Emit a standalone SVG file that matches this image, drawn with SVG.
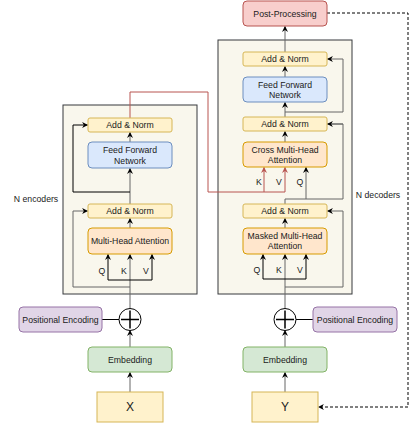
<svg xmlns="http://www.w3.org/2000/svg" width="415" height="423" viewBox="0 0 415 423">
<defs>
<style>
text{font-family:"Liberation Sans",Arial,sans-serif;font-size:8.7px;fill:#1a1a1a;text-anchor:middle;dominant-baseline:central}
.cont{fill:#f9f7ed;stroke:#36393d;stroke-width:1}
.an{fill:#fff2cc;stroke:#d6b656;stroke-width:1}
.ff{fill:#dae8fc;stroke:#6c8ebf;stroke-width:1}
.mha{fill:#ffe6cc;stroke:#d79b00;stroke-width:1}
.pp{fill:#f8cecc;stroke:#b85450;stroke-width:1}
.pe{fill:#e1d5e7;stroke:#9673a6;stroke-width:1}
.emb{fill:#d5e8d4;stroke:#82b366;stroke-width:1}
.inp{fill:#fff2cc;stroke:#d6b656;stroke-width:1}
.c{fill:none;stroke:#666;stroke-width:1}
.cb{fill:none;stroke:#000;stroke-width:1}
.cr{fill:none;stroke:#b85450;stroke-width:1}
.cd{fill:none;stroke:#000;stroke-width:1;stroke-dasharray:3 2}
.a{marker-end:url(#ah)}
.ar{marker-end:url(#ahr)}
.big{font-size:12px}
</style>
<marker id="ah" viewBox="0 0 10 10" refX="9" refY="5" markerWidth="6" markerHeight="6" markerUnits="userSpaceOnUse" orient="auto"><path d="M0,0 L10,5 L0,10 L3,5 z" fill="#000"/></marker>
<marker id="ahr" viewBox="0 0 10 10" refX="9" refY="5" markerWidth="6" markerHeight="6" markerUnits="userSpaceOnUse" orient="auto"><path d="M0,0 L10,5 L0,10 L3,5 z" fill="#b85450"/></marker>
</defs>

<g id="encoder-container"><rect class="cont" x="63" y="105" width="134" height="189"/></g>
<g id="decoder-container"><rect class="cont" x="218" y="40" width="134" height="254"/></g>

<g id="connectors">
<!-- encoder -->
<path class="c a" d="M130,392 V372.5"/>
<path class="c a" d="M130,347 V330.5"/>
<path class="cb" d="M102,319.5 H119"/>
<path class="c a" d="M130,308 V254.5"/>
<path class="cb a" d="M130,280 H108 V254.5"/>
<path class="cb a" d="M130,280 H152 V254.5"/>
<path class="c a" d="M130,287 H73 V211 H87.5"/>
<path class="c a" d="M130,228 V218.5"/>
<path class="c a" d="M130,204 V168.5"/>
<path class="cb a" d="M130,192 H73 V125 H87.5"/>
<path class="c a" d="M130,142 V132.5"/>
<path class="cr ar" d="M130,118 V92 H208 V192 H285 V167.5"/>
<path class="cr ar" d="M264,192 V167.5"/>
<!-- decoder -->
<path class="c a" d="M285,392 V372.5"/>
<path class="c a" d="M285,347 V330.5"/>
<path class="cb" d="M296,319.5 H313"/>
<path class="c a" d="M285,308 V254.5"/>
<path class="cb a" d="M285,279 H263 V254.5"/>
<path class="cb a" d="M285,279 H306 V254.5"/>
<path class="c a" d="M285,287 H343 V211 H327.5"/>
<path class="c a" d="M285,228 V218.5"/>
<path class="c" d="M285,204 V199 H343 V124 H327.5"/>
<path class="c a" d="M343,124 H327.5"/>
<path class="c a" d="M306,199 V167.5"/>
<path class="c a" d="M285,142 V131.5"/>
<path class="c a" d="M285,117 V102.5"/>
<path class="c" d="M285,112 H343 V59"/>
<path class="c a" d="M343,59 H327.5"/>
<path class="c a" d="M285,77 V66.5"/>
<path class="c a" d="M285,52 V26.5"/>
<path class="cd a" d="M327,13 H408 V407 H318.5"/>
</g>

<g id="enc-addnorm-top"><rect class="an" x="88" y="118" width="84" height="14" rx="2"/><text x="130" y="125">Add &amp; Norm</text></g>
<g id="enc-ffn"><rect class="ff" x="88" y="142" width="84" height="26" rx="4"/><text x="130" y="150">Feed Forward</text><text x="130" y="161">Network</text></g>
<g id="enc-addnorm-bottom"><rect class="an" x="88" y="204" width="84" height="14" rx="2"/><text x="130" y="211">Add &amp; Norm</text></g>
<g id="enc-mha"><rect class="mha" x="88" y="228" width="84" height="26" rx="4"/><text x="130" y="241">Multi-Head Attention</text></g>
<g id="enc-labels"><text x="102" y="271">Q</text><text x="124" y="271">K</text><text x="146" y="271">V</text><text x="36" y="199">N encoders</text></g>

<g id="post-processing"><rect class="pp" x="243" y="1" width="84" height="25" rx="4"/><text x="285" y="13.5">Post-Processing</text></g>
<g id="dec-addnorm-top"><rect class="an" x="243" y="52" width="84" height="14" rx="2"/><text x="285" y="59">Add &amp; Norm</text></g>
<g id="dec-ffn"><rect class="ff" x="243" y="77" width="84" height="25" rx="4"/><text x="285" y="84.5">Feed Forward</text><text x="285" y="95">Network</text></g>
<g id="dec-addnorm-mid"><rect class="an" x="243" y="117" width="84" height="14" rx="2"/><text x="285" y="124">Add &amp; Norm</text></g>
<g id="dec-cross-mha"><rect class="mha" x="243" y="142" width="84" height="25" rx="4"/><text x="285" y="149.5">Cross Multi-Head</text><text x="285" y="160">Attention</text></g>
<g id="dec-addnorm-bottom"><rect class="an" x="243" y="204" width="84" height="14" rx="2"/><text x="285" y="211">Add &amp; Norm</text></g>
<g id="dec-masked-mha"><rect class="mha" x="243" y="228" width="84" height="26" rx="4"/><text x="285" y="235.5">Masked Multi-Head</text><text x="285" y="246">Attention</text></g>
<g id="dec-labels"><text x="259" y="182">K</text><text x="279" y="182">V</text><text x="300" y="182">Q</text><text x="257" y="270">Q</text><text x="279" y="270">K</text><text x="300" y="270">V</text><text x="378" y="195">N decoders</text></g>

<g id="enc-add"><circle cx="130" cy="319.5" r="11" fill="#fff" stroke="#000"/><path d="M121,319.5 H139 M130,310.5 V328.5" stroke="#000" stroke-width="1.5"/></g>
<g id="dec-add"><circle cx="285" cy="319.5" r="11" fill="#fff" stroke="#000"/><path d="M276,319.5 H294 M285,310.5 V328.5" stroke="#000" stroke-width="1.5"/></g>
<g id="enc-pe"><rect class="pe" x="19" y="307" width="83" height="25" rx="4"/><text x="60.5" y="319.5">Positional Encoding</text></g>
<g id="dec-pe"><rect class="pe" x="313" y="307" width="84" height="25" rx="4"/><text x="355" y="319.5">Positional Encoding</text></g>
<g id="enc-emb"><rect class="emb" x="88" y="347" width="84" height="25" rx="4"/><text x="130" y="359.5">Embedding</text></g>
<g id="dec-emb"><rect class="emb" x="243" y="347" width="84" height="25" rx="4"/><text x="285" y="359.5">Embedding</text></g>
<g id="x-input"><rect class="inp" x="97" y="392" width="66" height="30"/><text class="big" x="130" y="407">X</text></g>
<g id="y-input"><rect class="inp" x="252" y="392" width="66" height="30"/><text class="big" x="285" y="407">Y</text></g>
</svg>
